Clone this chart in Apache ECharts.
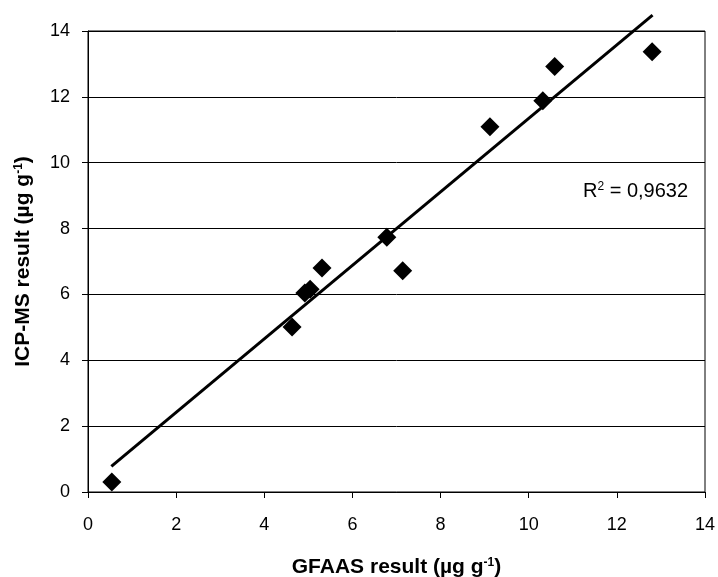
<!DOCTYPE html>
<html>
<head>
<meta charset="utf-8">
<script src="https://cdn.jsdelivr.net/npm/echarts@6/dist/echarts.min.js"></script>
<style>html,body{margin:0;padding:0;background:#fff;}#c{width:718px;height:577px;}</style>
</head>
<body>
<div id="c"></div>
<script>
// GFAAS (x) vs ICP-MS (y) results
const gfaas = [0.54, 4.63, 4.92, 5.04, 5.31, 6.78, 7.14, 9.12, 10.32, 10.59, 12.80];
const icpms = [0.30, 5.01, 6.04, 6.16, 6.80, 7.74, 6.72, 11.09, 11.88, 12.92, 13.37];
// linear trend line end points (as drawn)
const trendX = [0.53, 12.81];
const trendY = [0.78, 14.48];
const xTicks = [0, 2, 4, 6, 8, 10, 12, 14];
const yTicks = [0, 2, 4, 6, 8, 10, 12, 14];
const r2Text = '0,9632';

const font = 'Liberation Sans, Arial, sans-serif';
const chart = echarts.init(document.getElementById('c'), null, {renderer: 'canvas'});
const titleRich = {
  b: {fontSize: 21, fontWeight: 'bold', fontFamily: font, color: '#000'},
  s: {fontSize: 12, fontWeight: 'bold', fontFamily: font, color: '#000', verticalAlign: 'top'}
};
chart.setOption({
  animation: false,
  backgroundColor: '#fff',
  grid: {left: 88, top: 31, right: 13, bottom: 85, show: true, borderColor: '#000', borderWidth: 1,
         containLabel: false, outerBoundsMode: 'none'},
  xAxis: {
    type: 'value', min: xTicks[0], max: xTicks[xTicks.length - 1], interval: 2,
    name: '{b|GFAAS result (µg g}{s|-1}{b|)}',
    nameLocation: 'middle', nameGap: 65,
    nameTextStyle: {rich: titleRich},
    axisLine: {show: true, lineStyle: {color: '#000', width: 1}},
    axisTick: {show: true, length: 6, lineStyle: {color: '#000'}},
    axisLabel: {color: '#000', fontSize: 18, fontFamily: font, margin: 24},
    splitLine: {show: false}
  },
  yAxis: {
    type: 'value', min: yTicks[0], max: yTicks[yTicks.length - 1], interval: 2,
    name: '{b|ICP-MS result (µg g}{s|-1}{b|)}',
    nameLocation: 'middle', nameGap: 54, nameRotate: 90,
    nameTextStyle: {rich: titleRich},
    axisLine: {show: true, lineStyle: {color: '#000', width: 1}},
    axisTick: {show: true, length: 6, lineStyle: {color: '#000'}},
    axisLabel: {color: '#000', fontSize: 18, fontFamily: font, margin: 18},
    splitLine: {show: true, lineStyle: {color: '#000', width: 1}}
  },
  graphic: [{
    type: 'text', left: 583, top: 181,
    style: {
      text: '{r|R}{s|2}{r| = ' + r2Text + '}',
      rich: {
        r: {fontSize: 20, fontFamily: font, fill: '#000', color: '#000'},
        s: {fontSize: 12, fontFamily: font, fill: '#000', color: '#000', verticalAlign: 'top'}
      }
    }
  }],
  series: [
    {
      type: 'line', data: trendX.map((x, i) => [x, trendY[i]]),
      showSymbol: false, clip: false,
      lineStyle: {color: '#000', width: 3}, z: 2
    },
    {
      type: 'scatter', data: gfaas.map((x, i) => [x, icpms[i]]),
      symbol: 'diamond', symbolSize: 19,
      itemStyle: {color: '#000', opacity: 1}, z: 3
    }
  ]
});
</script>
</body>
</html>
